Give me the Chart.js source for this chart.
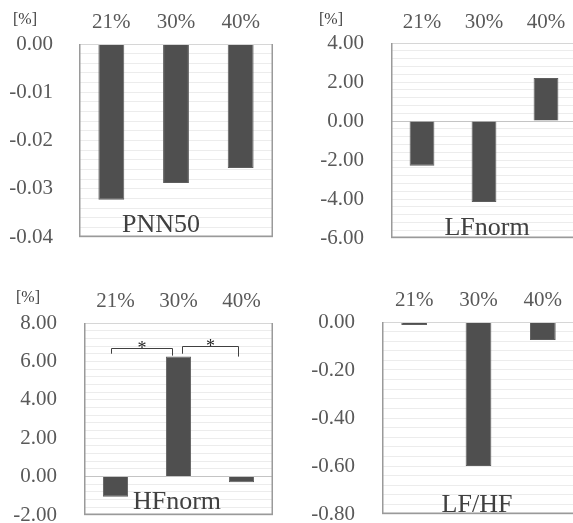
<!DOCTYPE html>
<html>
<head>
<meta charset="utf-8">
<title>HRV change by oxygen level</title>
<script src="https://cdn.jsdelivr.net/npm/chart.js"></script>
<style>
  html, body { margin: 0; padding: 0; background: #fff; overflow: hidden; }
  body { width: 573px; height: 523px; position: relative; }
  canvas { position: absolute; }
</style>
</head>
<body>
<canvas id="pnn50" width="290" height="260" style="left:0px;top:0px"></canvas>
<canvas id="lfnorm" width="300" height="260" style="left:290px;top:0px"></canvas>
<canvas id="hfnorm" width="290" height="263" style="left:0px;top:260px"></canvas>
<canvas id="lfhf" width="300" height="263" style="left:290px;top:260px"></canvas>
<script>
const categories = ['21%', '30%', '40%'];

const pnn50Values = [-0.0323, -0.0288, -0.0257];
const lfnormValues = [-2.3, -4.15, 2.2];
const hfnormValues = [-1.05, 6.25, -0.3];
const lfhfValues = [-0.012, -0.6, -0.075];

// axis range: min, max, labelled step (gridlines every step/5)
const pnn50Axis = { min: -0.04, max: 0, step: 0.01 };
const lfnormAxis = { min: -6, max: 4, step: 2 };
const hfnormAxis = { min: -2, max: 8, step: 2 };
const lfhfAxis = { min: -0.8, max: 0, step: 0.2 };

// significance brackets on HFnorm (x in category index, y in %)
const hfnormBrackets = [
  { from: -0.07, to: 0.9, y: 6.72, fromEnd: 6.4, toEnd: 6.3 },
  { from: 1.055, to: 1.94, y: 6.82, fromEnd: 6.4, toEnd: 6.25 }
];

const SERIF = "'Liberation Serif', 'Times New Roman', serif";
Chart.defaults.font.family = SERIF;
Chart.defaults.color = '#595959';

const TEXT_DARK = '#404040';

const decor = {
  id: 'decor',
  afterDatasetsDraw(chart, args, o) {
    const ctx = chart.ctx;
    const a = chart.chartArea;
    ctx.save();
    // plot area frame
    ctx.lineWidth = 1;
    ctx.strokeStyle = '#d6d6d6';
    ctx.beginPath();
    ctx.moveTo(a.left, a.top + 0.5);
    ctx.lineTo(a.right, a.top + 0.5);
    ctx.stroke();
    ctx.lineWidth = 1.5;
    ctx.strokeStyle = '#9a9a9a';
    ctx.beginPath();
    ctx.moveTo(a.left + 0.75, a.top);
    ctx.lineTo(a.left + 0.75, a.bottom - 0.75);
    ctx.lineTo(a.right - 0.75, a.bottom - 0.75);
    ctx.lineTo(a.right - 0.75, a.top);
    ctx.stroke();

    // unit label
    if (o.unit) {
      ctx.fillStyle = TEXT_DARK;
      ctx.font = '16px ' + SERIF;
      ctx.textAlign = 'center';
      ctx.textBaseline = 'middle';
      ctx.fillText(o.unit, o.unitX, o.unitY);
    }

    // panel title inside plot
    ctx.fillStyle = TEXT_DARK;
    ctx.font = '26px ' + SERIF;
    ctx.textAlign = 'center';
    ctx.textBaseline = 'alphabetic';
    ctx.fillText(o.title, o.titleX, o.titleY);

    // brackets
    if (o.brackets) {
      const xs = chart.scales.x, ys = chart.scales.y;
      ctx.strokeStyle = TEXT_DARK;
      ctx.lineWidth = 1;
      o.brackets.forEach(b => {
        const x1 = Math.round(xs.getPixelForValue(b.from)) + 0.5;
        const x2 = Math.round(xs.getPixelForValue(b.to)) + 0.5;
        const yt = Math.round(ys.getPixelForValue(b.y)) + 0.5;
        ctx.beginPath();
        ctx.moveTo(x1, ys.getPixelForValue(b.fromEnd));
        ctx.lineTo(x1, yt);
        ctx.lineTo(x2, yt);
        ctx.lineTo(x2, ys.getPixelForValue(b.toEnd));
        ctx.stroke();
        ctx.fillStyle = '#262626';
        ctx.font = '18px ' + SERIF;
        ctx.textAlign = 'center';
        ctx.textBaseline = 'alphabetic';
        ctx.fillText('*', (x1 + x2) / 2, yt + 5);
      });
    }
    ctx.restore();
  }
};

function makePanel(id, values, axis, frame, extra) {
  const minor = axis.step / 5;
  const n = Math.round((axis.max - axis.min) / minor);
  new Chart(document.getElementById(id), {
    type: 'bar',
    data: {
      labels: categories,
      datasets: [{
        data: values,
        backgroundColor: '#4f4f4f',
        borderColor: '#5e5e5e',
        borderWidth: 1,
        barPercentage: 0.4,
        categoryPercentage: 1
      }]
    },
    options: {
      responsive: false,
      animation: false,
      devicePixelRatio: 1,
      layout: { padding: { left: 0, top: 0, right: frame.right, bottom: frame.bottom } },
      plugins: {
        legend: { display: false },
        tooltip: { enabled: false },
        decor: extra
      },
      scales: {
        x: {
          position: 'top',
          grid: { display: false, drawTicks: false },
          border: { display: false },
          ticks: { font: { family: SERIF, size: 21 }, padding: frame.xPad, color: '#595959' },
          afterFit: s => {
            s.height = frame.top;
            s.paddingLeft = 0;
            s.paddingRight = 0;
          }
        },
        y: {
          min: axis.min,
          max: axis.max,
          afterBuildTicks: s => {
            const t = [];
            for (let i = 0; i <= n; i++) t.push({ value: +(axis.min + i * minor).toFixed(6) });
            s.ticks = t;
          },
          grid: {
            drawTicks: false,
            color: c => (c.tick && c.tick.value === 0) ? '#c4c4c4' : '#ececec',
            lineWidth: 1
          },
          border: { display: false },
          ticks: {
            autoSkip: false,
            font: { family: SERIF, size: 21 },
            color: '#595959',
            padding: frame.yPad,
            callback: v => {
              const k = v / axis.step;
              return Math.abs(k - Math.round(k)) < 1e-6 ? Number(v).toFixed(2) : '';
            }
          },
          afterFit: s => {
            s.width = frame.left;
            s.paddingTop = 0;
            s.paddingBottom = 0;
          }
        }
      }
    },
    plugins: [decor]
  });
}

makePanel('pnn50', pnn50Values, pnn50Axis,
  { left: 79, top: 44, right: 17, bottom: 23, xPad: 9, yPad: 26 },
  { title: 'PNN50', titleX: 161, titleY: 232, unit: '[%]', unitX: 25, unitY: 20 });

makePanel('lfnorm', lfnormValues, lfnormAxis,
  { left: 101, top: 43, right: 13, bottom: 22, xPad: 8, yPad: 27 },
  { title: 'LFnorm', titleX: 197, titleY: 235, unit: '[%]', unitX: 41, unitY: 20 });

makePanel('hfnorm', hfnormValues, hfnormAxis,
  { left: 84, top: 63, right: 17, bottom: 8, xPad: 9, yPad: 27 },
  { title: 'HFnorm', titleX: 177, titleY: 249, unit: '[%]', unitX: 28, unitY: 38, brackets: hfnormBrackets });

makePanel('lfhf', lfhfValues, lfhfAxis,
  { left: 92, top: 62, right: 15, bottom: 9, xPad: 9, yPad: 27 },
  { title: 'LF/HF', titleX: 187, titleY: 252 });
</script>
</body>
</html>
